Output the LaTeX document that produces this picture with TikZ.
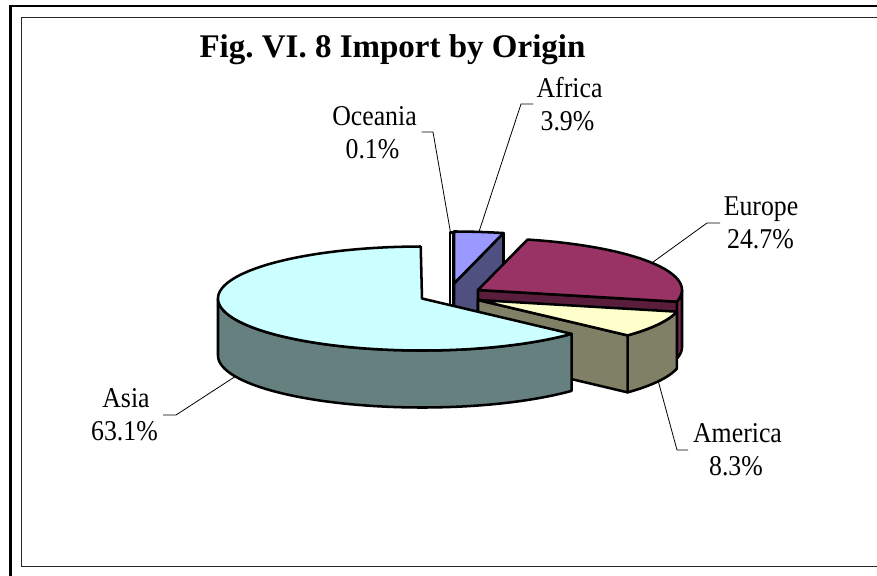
\documentclass[tikz,border=0pt]{standalone}
\usepackage{fontspec}
\setmainfont{Liberation Serif}
\newfontfamily\lblfont{Liberation Serif}[FakeStretch=0.9]
\definecolor{asiatop}{HTML}{CCFFFF}
\definecolor{asiaside}{HTML}{668080}
\definecolor{eutop}{HTML}{993366}
\definecolor{euface}{HTML}{5A1E3C}
\definecolor{euside}{HTML}{7A2952}
\definecolor{amtop}{HTML}{FFFFCC}
\definecolor{amside}{HTML}{808066}
\definecolor{aftop}{HTML}{9999FF}
\definecolor{afside}{HTML}{4F4F80}
\frenchspacing
\begin{document}
\begin{tikzpicture}[x=0.75pt,y=-0.75pt,
  pieline/.style={draw=black,line width=1.9pt,line join=round},
  leader/.style={draw=black,line width=0.6pt},
  lbl/.style={anchor=base,inner sep=0pt,font=\lblfont\fontsize{21.5pt}{24pt}\selectfont},
  ttl/.style={anchor=base,inner sep=0pt,font=\bfseries\fontsize{24.75pt}{30pt}\selectfont}]
\useasboundingbox (0,0) rectangle (877,575);
\def\RA{204}\def\RB{52}\def\DH{57}
% frames
\draw[line width=2.2pt] (10.5,577) -- (10.5,6) -- (879,6);
\draw[line width=1.1pt,black!85] (879,17.5) -- (21.5,17.5) -- (21.5,566.5) -- (879,566.5);
% title
\node[ttl] (title) at (392.5,57) {Fig. VI. 8 Import by Origin};
% Oceania slice (thin)
\filldraw[pieline,fill=white] (450,232.5) -- (452.8,232.5) -- (452.8,341.5) -- (450,341.5) -- cycle;
% Africa slice
\filldraw[pieline,fill=afside] (454,283.5) -- ({454+\RA*sin(14.04)},{283.5-\RB*cos(14.04)}) -- ({454+\RA*sin(14.04)},{283.5+\DH-\RB*cos(14.04)}) -- (454,340.5) -- cycle;
\filldraw[pieline,fill=aftop] (454,283.5) -- plot[domain=0:14.04,samples=12] ({454+\RA*sin(\x)},{283.5-\RB*cos(\x)}) -- cycle;
% Europe slice
\filldraw[pieline,fill=euside] plot[domain=90:102.96,samples=12] ({478+\RA*sin(\x)},{290-\RB*cos(\x)}) -- plot[domain=102.96:90,samples=12] ({478+\RA*sin(\x)},{290+\DH-\RB*cos(\x)}) -- cycle;
\filldraw[pieline,fill=euface] (478,290) -- ({478+\RA*sin(102.96)},{290-\RB*cos(102.96)}) -- ({478+\RA*sin(102.96)},{290+\DH-\RB*cos(102.96)}) -- (478,347) -- cycle;
\filldraw[pieline,fill=eutop] (478,290) -- plot[domain=14.04:102.96,samples=50] ({478+\RA*sin(\x)},{290-\RB*cos(\x)}) -- cycle;
% America slice
\filldraw[pieline,fill=amside] plot[domain=102.96:132.84,samples=20] ({478+\RA*sin(\x)},{300-\RB*cos(\x)}) -- plot[domain=132.84:102.96,samples=20] ({478+\RA*sin(\x)},{300+\DH-\RB*cos(\x)}) -- cycle;
\filldraw[pieline,fill=amside] (478,300) -- ({478+\RA*sin(132.84)},{300-\RB*cos(132.84)}) -- ({478+\RA*sin(132.84)},{300+\DH-\RB*cos(132.84)}) -- (478,357) -- cycle;
\filldraw[pieline,fill=amtop] (478,300) -- plot[domain=102.96:132.84,samples=20] ({478+\RA*sin(\x)},{300-\RB*cos(\x)}) -- cycle;
% Asia slice
\filldraw[pieline,fill=asiaside] plot[domain=132.84:270,samples=70] ({422+\RA*sin(\x)},{298.5-\RB*cos(\x)}) -- plot[domain=270:132.84,samples=70] ({422+\RA*sin(\x)},{298.5+\DH-\RB*cos(\x)}) -- cycle;
\filldraw[pieline,fill=asiatop] (422,298.5) -- plot[domain=132.84:359.64,samples=120] ({422+\RA*sin(\x)},{298.5-\RB*cos(\x)}) -- cycle;
% labels
\node[lbl] (oceN) at (374.5,125) {Oceania};
\node[lbl] (oceV) at (372.5,158) {0.1\%};
\node[lbl] (afrN) at (569.5,97) {Africa};
\node[lbl] (afrV) at (567.5,130) {3.9\%};
\node[lbl] (eurN) at (761,215) {Europe};
\node[lbl] (eurV) at (760.5,248) {24.7\%};
\node[lbl] (asiaN) at (126,407) {Asia};
\node[lbl] (asiaV) at (124.5,440) {63.1\%};
\node[lbl] (amN) at (737.5,442) {America};
\node[lbl] (amV) at (736,475) {8.3\%};
% leader lines
\coordinate (oceS) at (421.5,132); \coordinate (oceE) at (433,132); \coordinate (oceP) at (450.5,232.5);
\coordinate (afrS) at (533,104); \coordinate (afrE) at (521,104); \coordinate (afrP) at ({454+\RA*sin(7.02)},{283.5-\RB*cos(7.02)});
\coordinate (eurS) at (720,223); \coordinate (eurE) at (707,223); \coordinate (eurP) at ({478+\RA*sin(58.5)},{290-\RB*cos(58.5)});
\coordinate (asiaS) at (163,415); \coordinate (asiaE) at (176,415); \coordinate (asiaP) at ({422+\RA*sin(246.24)},{298.5+\DH-\RB*cos(246.24)});
\coordinate (amS) at (688,450); \coordinate (amE) at (677,450); \coordinate (amP) at ({478+\RA*sin(117.9)},{300+\DH-\RB*cos(117.9)});
\draw[leader] (oceS) -- (oceE) -- (oceP);
\draw[leader] (afrS) -- (afrE) -- (afrP);
\draw[leader] (eurS) -- (eurE) -- (eurP);
\draw[leader] (asiaS) -- (asiaE) -- (asiaP);
\draw[leader] (amS) -- (amE) -- (amP);
\end{tikzpicture}
\end{document}
